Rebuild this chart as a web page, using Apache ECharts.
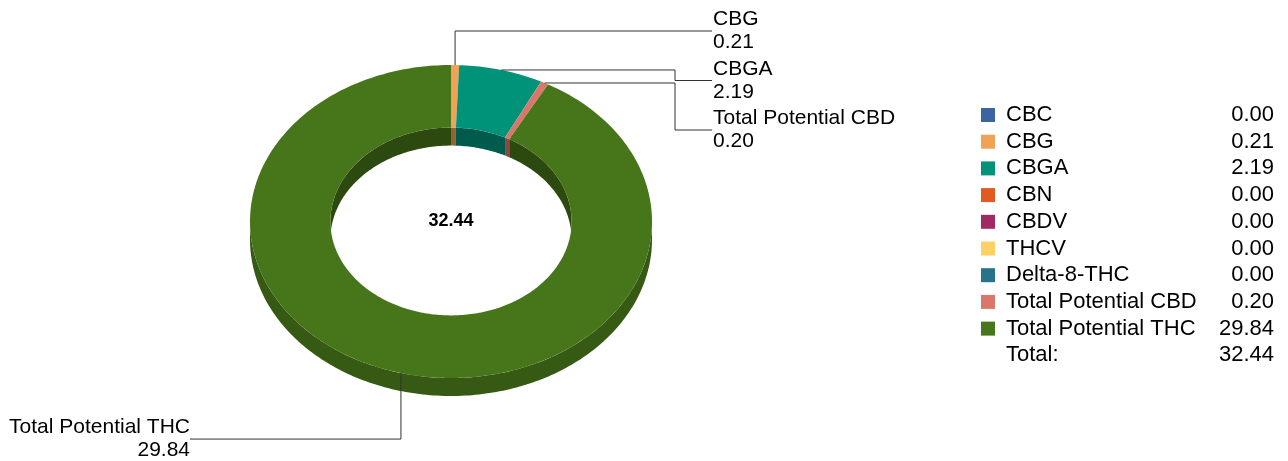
<!DOCTYPE html>
<html lang="en">
<head>
    <meta charset="UTF-8">
    <title>Cannabinoid Profile</title>
    <script src="https://cdn.jsdelivr.net/npm/echarts@6/dist/echarts.min.js"></script>
    <style>
        html, body { margin: 0; padding: 0; background: #fff; }
        #main { width: 1288px; height: 461px; }
    </style>
</head>
<body>
    <div id="main"></div>
    <script>
        // Data
        const names = ['CBC', 'CBG', 'CBGA', 'CBN', 'CBDV', 'THCV', 'Delta-8-THC', 'Total Potential CBD', 'Total Potential THC'];
        const values = [0.00, 0.21, 2.19, 0.00, 0.00, 0.00, 0.00, 0.20, 29.84];
        const colors = ['#3b65a0', '#f0a257', '#00937a', '#e05a22', '#a02b62', '#ffd065', '#27748a', '#d9786a', '#47761a'];
        const totalText = 'Total:';

        const FONT = 'Arial, "Liberation Sans", sans-serif';

        // Ring geometry (elliptical donut with a little depth)
        const cx = 451, cy = 221.5, rx = 201, ry = 156.5, inner = 0.6, depth = 18;

        const total = values.reduce((a, b) => a + b, 0);
        let acc = 0;
        const seriesData = values.map((v, i) => {
            const s = acc / total;
            acc += v;
            return { name: names[i], value: [v, s, acc / total], itemStyle: { color: colors[i] } };
        });

        // which side each outside label sits on, and its order on that side
        const slots = {};
        let nRight = 0, nLeft = 0;
        seriesData.forEach((d, i) => {
            if (d.value[0] <= 0) return;
            const mid = (d.value[1] + d.value[2]) * Math.PI;
            if (mid < Math.PI) slots[i] = { side: 'right', k: nRight++ };
            else slots[i] = { side: 'left', k: nLeft++ };
        });

        function shade(hex, f) {
            const n = parseInt(hex.slice(1), 16);
            const r = Math.round(((n >> 16) & 255) * f);
            const g = Math.round(((n >> 8) & 255) * f);
            const b = Math.round((n & 255) * f);
            return 'rgb(' + r + ',' + g + ',' + b + ')';
        }

        function pt(th, r, dy) {
            return [cx + rx * r * Math.sin(th), cy - ry * r * Math.cos(th) + (dy || 0)];
        }
        function arc(a, b, r, dy) {
            const n = Math.max(2, Math.ceil((b - a) / (Math.PI / 180)));
            const out = [];
            for (let j = 0; j <= n; j++) out.push(pt(a + (b - a) * j / n, r, dy));
            return out;
        }
        function wall(a, b, r, color) {
            const top = arc(a, b, r, 0);
            const bot = arc(a, b, r, depth).reverse();
            return { type: 'polygon', z2: 1, shape: { points: top.concat(bot) }, style: { fill: color } };
        }

        function renderItem(params, api) {
            const i = params.dataIndex;
            const v = api.value(0);
            if (!(v > 0)) return null;
            const a0 = api.value(1) * 2 * Math.PI;
            const a1 = api.value(2) * 2 * Math.PI;
            const color = colors[i];
            const kids = [];

            // inner wall (far side of the hole)
            [[0, Math.PI / 2], [1.5 * Math.PI, 2 * Math.PI]].forEach(([lo, hi]) => {
                const a = Math.max(a0, lo), b = Math.min(a1, hi);
                if (b > a) kids.push(wall(a, b, inner, shade(color, 0.62)));
            });
            // outer wall (near side)
            {
                const a = Math.max(a0, Math.PI / 2), b = Math.min(a1, 1.5 * Math.PI);
                if (b > a) kids.push(wall(a, b, 1, shade(color, 0.76)));
            }
            // top face
            const face = arc(a0, a1, 1, 0).concat(arc(a0, a1, inner, 0).reverse());
            kids.push({ type: 'polygon', z2: 10, shape: { points: face }, style: { fill: color } });

            // outside label with elbow leader line
            const slot = slots[i];
            const mid = (a0 + a1) / 2;
            const [ax, ay] = pt(mid, 1, 0);
            const txt = names[i] + '\n' + v.toFixed(2);
            let pts, tx, align, ly;
            if (slot.side === 'right') {
                ly = 31 + slot.k * 49.5;
                tx = 712;
                align = 'left';
                if (ly < ay) pts = [[ax, ay], [ax, ly], [tx, ly]];
                else pts = [[ax, ay], [675, ay], [675, ly], [tx, ly]];
            } else {
                ly = ay + 66 + slot.k * 49.5;
                tx = 190;
                align = 'right';
                pts = [[ax, ay], [ax, ly], [tx, ly]];
            }
            kids.push({ type: 'polyline', z2: 20, shape: { points: pts }, style: { stroke: '#333', lineWidth: 1, fill: null } });
            kids.push({
                type: 'text', z2: 21, x: tx + (align === 'left' ? 1 : 0), y: ly,
                style: { text: txt, font: '21px ' + FONT, fill: '#000', align: align, verticalAlign: 'middle', lineHeight: 23 }
            });

            return { type: 'group', children: kids };
        }

        // legend table on the right
        const legendEls = [];
        const rowY0 = 115, rowStep = 26.7;
        names.forEach((n, i) => {
            const y = rowY0 + i * rowStep;
            legendEls.push({ type: 'rect', left: 981, top: y - 7, shape: { width: 14, height: 14 }, style: { fill: colors[i] } });
            legendEls.push({ type: 'text', x: 1006, y: y, style: { text: n, font: '22px ' + FONT, fill: '#000', verticalAlign: 'middle' } });
            legendEls.push({ type: 'text', x: 1274, y: y, style: { text: values[i].toFixed(2), font: '22px ' + FONT, fill: '#000', align: 'right', verticalAlign: 'middle' } });
        });
        const yTot = rowY0 + names.length * rowStep;
        legendEls.push({ type: 'text', x: 1006, y: yTot, style: { text: totalText, font: '22px ' + FONT, fill: '#000', verticalAlign: 'middle' } });
        legendEls.push({ type: 'text', x: 1274, y: yTot, style: { text: total.toFixed(2), font: '22px ' + FONT, fill: '#000', align: 'right', verticalAlign: 'middle' } });

        const option = {
            animation: false,
            backgroundColor: '#fff',
            graphic: legendEls.concat([
                { type: 'text', x: cx, y: cy, z: 10, style: { text: total.toFixed(2), font: 'bold 18px ' + FONT, fill: '#000', align: 'center', verticalAlign: 'middle' } }
            ]),
            series: [{
                type: 'custom',
                coordinateSystem: 'none',
                renderItem: renderItem,
                data: seriesData
            }]
        };

        const chart = echarts.init(document.getElementById('main'));
        chart.setOption(option);
    </script>
</body>
</html>
